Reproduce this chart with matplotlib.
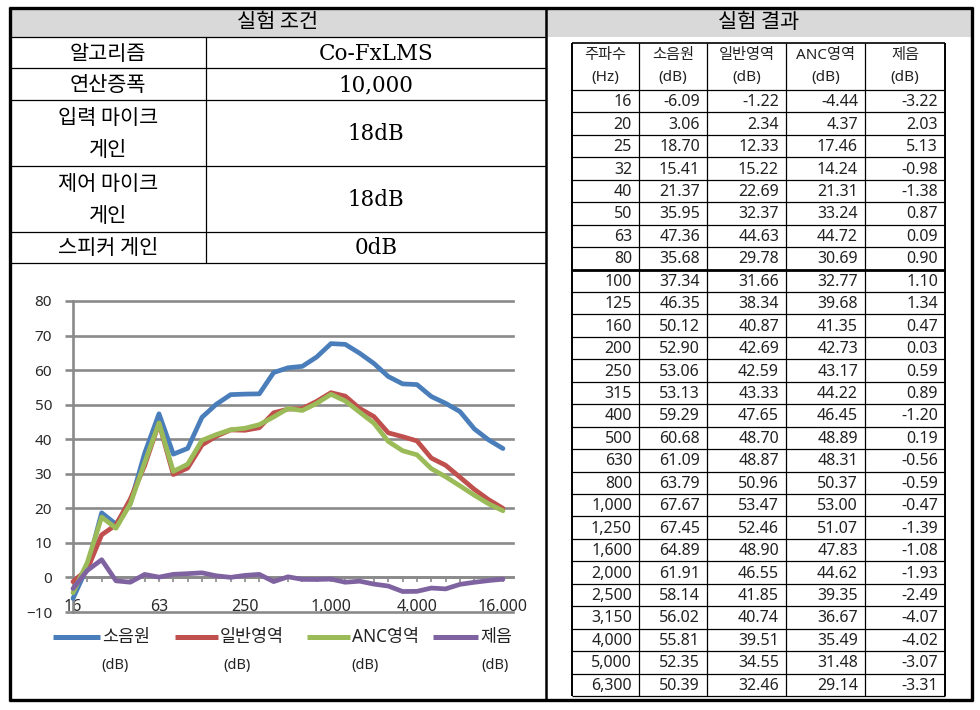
import matplotlib
matplotlib.use("Agg")
import matplotlib.pyplot as plt
from matplotlib.lines import Line2D
from matplotlib.patches import Rectangle

plt.rcParams['font.family'] = ['Noto Sans', 'Noto Sans CJK KR', 'DejaVu Sans']

# ---------------- data ----------------
cond_labels = ["알고리즘", "연산증폭", "입력 마이크\n게인", "제어 마이크\n게인", "스피커 게인"]
cond_values = ["Co-FxLMS", "10,000", "18dB", "18dB", "0dB"]

col_headers = ["주파수\n(Hz)", "소음원\n(dB)", "일반영역\n(dB)", "ANC영역\n(dB)", "제음\n(dB)"]
freqs = [16, 20, 25, 32, 40, 50, 63, 80, 100, 125, 160, 200, 250, 315, 400, 500,
         630, 800, 1000, 1250, 1600, 2000, 2500, 3150, 4000, 5000, 6300]
source = [-6.09, 3.06, 18.70, 15.41, 21.37, 35.95, 47.36, 35.68, 37.34, 46.35, 50.12,
          52.90, 53.06, 53.13, 59.29, 60.68, 61.09, 63.79, 67.67, 67.45, 64.89, 61.91,
          58.14, 56.02, 55.81, 52.35, 50.39]
general = [-1.22, 2.34, 12.33, 15.22, 22.69, 32.37, 44.63, 29.78, 31.66, 38.34, 40.87,
           42.69, 42.59, 43.33, 47.65, 48.70, 48.87, 50.96, 53.47, 52.46, 48.90, 46.55,
           41.85, 40.74, 39.51, 34.55, 32.46]
anc = [-4.44, 4.37, 17.46, 14.24, 21.31, 33.24, 44.72, 30.69, 32.77, 39.68, 41.35,
       42.73, 43.17, 44.22, 46.45, 48.89, 48.31, 50.37, 53.00, 51.07, 47.83, 44.62,
       39.35, 36.67, 35.49, 31.48, 29.14]
reduction = [-3.22, 2.03, 5.13, -0.98, -1.38, 0.87, 0.09, 0.90, 1.10, 1.34, 0.47,
             0.03, 0.59, 0.89, -1.20, 0.19, -0.56, -0.59, -0.47, -1.39, -1.08, -1.93,
             -2.49, -4.07, -4.02, -3.07, -3.31]

# chart-only points beyond the table
freqs_ext = [8000, 10000, 12500, 16000]
source_ext = [48.0, 43.0, 39.8, 37.3]
general_ext = [29.0, 25.5, 22.5, 20.0]
anc_ext = [26.5, 23.8, 21.3, 19.3]
reduction_ext = [-2.0, -1.4, -0.9, -0.5]

series_names = ["소음원", "일반영역", "ANC영역", "제음"]
series_colors = ["#4A7EBB", "#C0504D", "#9BBB59", "#7F63A1"]
yticks = [-10, 0, 10, 20, 30, 40, 50, 60, 70, 80]

# ---------------- figure ----------------
W, H = 980, 710
fig = plt.figure(figsize=(W / 100, H / 100), dpi=100)


def fx(x):
    return x / W


def fy(y):
    return 1 - y / H


def hline(x0, x1, y, lw=0.8, color='black'):
    fig.add_artist(Line2D([fx(x0), fx(x1)], [fy(y), fy(y)], transform=fig.transFigure,
                          color=color, lw=lw, solid_capstyle='butt'))


def vline(x, y0, y1, lw=0.8, color='black'):
    fig.add_artist(Line2D([fx(x), fx(x)], [fy(y0), fy(y1)], transform=fig.transFigure,
                          color=color, lw=lw, solid_capstyle='butt'))


def text(x, y, s, size, ha='center', family=None, color='black', ls=1.2):
    kw = {}
    if family is not None:
        kw['family'] = family
    fig.text(fx(x), fy(y), s, ha=ha, va='center', fontsize=size, color=color,
             linespacing=ls, **kw)


# header fills
for (x0, x1) in [(10, 546), (546, 972)]:
    fig.add_artist(Rectangle((fx(x0), fy(37)), fx(x1) - fx(x0), fy(8) - fy(37),
                             transform=fig.transFigure, facecolor='#D9D9D9',
                             edgecolor='none', zorder=0))

KR = ['Noto Sans CJK KR']
SERIF = ['DejaVu Serif', 'Noto Sans CJK KR']
SANS = ['Noto Sans', 'Noto Sans CJK KR']

text(278, 22, "실험 조건", 15, family=KR)
text(759, 22, "실험 결과", 15, family=KR)

# left condition table
row_edges = [37, 68, 100, 166, 232, 263]
div_x = 206
for y in row_edges:
    hline(10, 546, y, lw=0.9)
vline(div_x, 37, 263, lw=0.9)
for i, (lab, val) in enumerate(zip(cond_labels, cond_values)):
    yc = (row_edges[i] + row_edges[i + 1]) / 2
    text((10 + div_x) / 2, yc + 1, lab, 15, family=KR, ls=1.6)
    text((div_x + 546) / 2, yc + 1, val, 15.5, family=SERIF)

# outer frame
hline(9, 973, 8, lw=2.4)
hline(9, 973, 700, lw=2.4)
vline(10, 7, 701, lw=2.4)
vline(972, 7, 701, lw=2.4)
vline(546, 7, 701, lw=1.8)

# right results table
col_x = [572, 639, 707, 786, 865, 945]
top = 43
head_bot = 90
row_h = (696 - head_bot) / len(freqs)
for i in range(len(freqs) + 1):
    y = head_bot + i * row_h
    hline(col_x[0], col_x[-1], y, lw=(2.0 if i == 8 else 0.9))
hline(col_x[0], col_x[-1], top, lw=1.2)
for j, x in enumerate(col_x):
    vline(x, top, 696, lw=(1.4 if j in (0, 5) else 0.9))
for j, h in enumerate(col_headers):
    cx = (col_x[j] + col_x[j + 1]) / 2
    top_txt, bot_txt = h.split("\n")
    text(cx, 55, top_txt, 11, family=SANS, color='#222222')
    text(cx, 77, bot_txt, 11, family=SANS, color='#222222')

for i in range(len(freqs)):
    yc = head_bot + (i + 0.5) * row_h + 1
    cells = [f"{freqs[i]:,}", f"{source[i]:.2f}", f"{general[i]:.2f}",
             f"{anc[i]:.2f}", f"{reduction[i]:.2f}"]
    for j, c in enumerate(cells):
        text(col_x[j + 1] - 7, yc, c, 11.5, ha='right', family=['Noto Sans'],
             color='#222222')

# ---------------- chart ----------------
all_freqs = freqs + freqs_ext
series = [source + source_ext, general + general_ext, anc + anc_ext,
          reduction + reduction_ext]
xs = list(range(len(all_freqs)))

ax = fig.add_axes([fx(73), fy(612), fx(513) - fx(73), fy(301) - fy(612)])
grid_c = '#8A8A8A'
ax.set_ylim(-10, 80)
ax.set_xlim(0, 30.7)
ax.set_yticks(yticks)
ax.yaxis.grid(True, color=grid_c, lw=1.9, zorder=0)
for gl in ax.yaxis.get_gridlines():
    gl.set_clip_on(False)
ax.set_axisbelow(True)
for s in ['top', 'right']:
    ax.spines[s].set_visible(False)
ax.spines['left'].set_color(grid_c)
ax.spines['left'].set_linewidth(1.9)
ax.spines['bottom'].set_position(('data', 0))
ax.spines['bottom'].set_color(grid_c)
ax.spines['bottom'].set_linewidth(1.9)

ax.tick_params(axis='y', direction='out', length=6, width=1.9, color=grid_c,
               labelsize=11, labelcolor='#2A2A2A', pad=9)
ax.set_xticks(xs[::6])
ax.set_xticklabels([f"{f:,}" for f in all_freqs[::6]])
ax.set_xticks(xs, minor=True)
ax.tick_params(axis='x', which='both', direction='out', length=3.5, width=1.2,
               color=grid_c)
ax.tick_params(axis='x', which='major', labelsize=11.5, labelcolor='#2A2A2A', pad=12)

for ys, c in zip(series, series_colors):
    ax.plot(xs, ys, color=c, lw=3.4, solid_joinstyle='round', solid_capstyle='round',
            zorder=3, clip_on=False)

# legend
leg_items = [(53, 100, 102, 115), (175, 218, 220, 237),
             (307, 350, 352, 365), (433, 478, 480, 495)]
for (lx0, lx1, tx, dbx), name, c in zip(leg_items, series_names, series_colors):
    fig.add_artist(Line2D([fx(lx0), fx(lx1)], [fy(637), fy(637)],
                          transform=fig.transFigure, color=c, lw=3.6,
                          solid_capstyle='butt'))
    text(tx, 637, name, 12.5, ha='left', family=SANS, color='#222222')
    text(dbx, 666, "(dB)", 10.5, family=['Noto Sans'], color='#222222')

fig.savefig("out.png", dpi=100)
